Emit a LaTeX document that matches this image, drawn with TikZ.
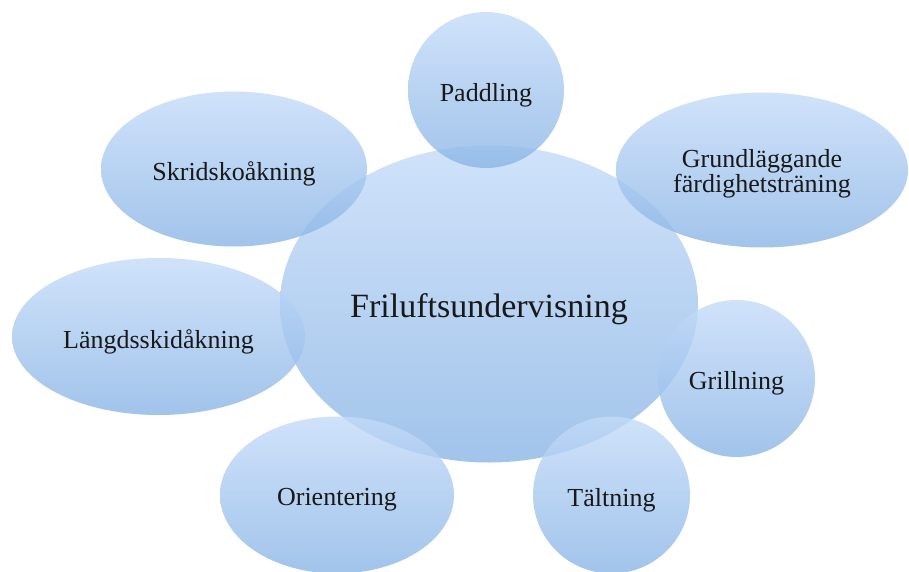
\documentclass[tikz,border=0pt]{standalone}
\usepackage{fontspec}
\setmainfont{Liberation Serif}
\usetikzlibrary{shapes.geometric}
\definecolor{bubtop}{RGB}{196,219,249}
\definecolor{bubbot}{RGB}{138,181,229}
\newcommand{\lowered}[1]{\raisebox{-5pt}[\height][\depth]{#1}}
\tikzset{
  bubble/.style={ellipse, inner sep=0pt, top color=bubtop, bottom color=bubbot,
    fill opacity=0.8, text opacity=1, text=black!90, draw=none,
    font=\fontsize{26}{26}\selectfont, align=center},
}
\begin{document}
\begin{tikzpicture}[x=1pt,y=-1pt]
\useasboundingbox (0,0) rectangle (909,572);
\node[bubble, minimum width=418pt, minimum height=317pt, font=\fontsize{34}{34}\selectfont] (center) at (489,304) {\lowered{Friluftsundervisning}};
\node[bubble, minimum width=156pt, minimum height=156pt] (padd) at (486,90) {\lowered{Paddling}};
\node[bubble, minimum width=292pt, minimum height=155pt] (grund) at (762,170) {\lowered{\begin{tabular}{@{}c@{}}Grundläggande\\[-1pt]färdighetsträning\end{tabular}}};
\node[bubble, minimum width=266pt, minimum height=155pt] (skrid) at (234,169) {\lowered{Skridskoåkning}};
\node[bubble, minimum width=293pt, minimum height=157pt] (langd) at (158.5,336.5) {\lowered{Längdsskidåkning}};
\node[bubble, minimum width=157pt, minimum height=157pt] (grill) at (736.5,378.5) {\lowered{Grillning}};
\node[bubble, minimum width=234pt, minimum height=157pt] (orient) at (337,495) {\lowered{Orientering}};
\node[bubble, minimum width=157pt, minimum height=157pt] (talt) at (611.5,495) {\lowered{Tältning}};
\end{tikzpicture}
\end{document}
